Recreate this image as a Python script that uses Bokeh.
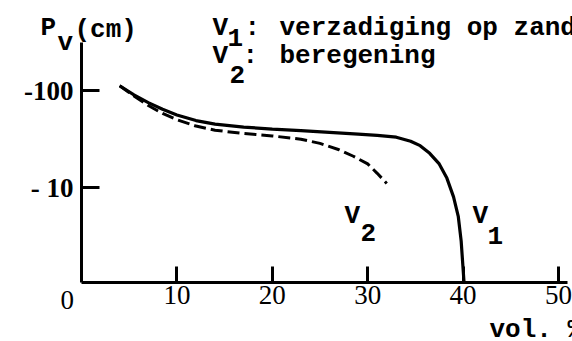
from bokeh.plotting import figure
from bokeh.models import Label, FixedTicker
from bokeh.embed import file_html
from bokeh.resources import INLINE
import numpy as np

# Water content (vol. %) and pressure head P_v (cm) for both curves
v1_vol = [4.0, 5.5, 7.0, 8.5, 10.0, 12.0, 14.0, 17.0, 20.0, 23.0, 26.0, 29.0,
          31.0, 33.0, 34.5, 35.5, 36.5, 37.5, 38.3, 39.0, 39.5, 39.8, 40.1]
v1_pv = [-112, -90, -75, -64, -56, -49, -45, -42, -40, -38.5, -37, -35.5,
         -34.5, -33, -30, -27, -22.5, -17.5, -12.5, -8, -5, -2.8, -1.05]

v2_vol = [4.0, 5.5, 7.0, 8.5, 10.0, 12.0, 14.0, 17.0, 20.0, 23.0, 25.0, 27.0,
          28.5, 30.0, 31.0, 32.0]
v2_pv = [-112, -88, -70, -58, -50, -43, -39, -36, -34, -31.5, -28.5, -24.5,
         -21, -17.5, -14, -11]

x_ticks = [10, 20, 30, 40, 50]
x_tick_labels = ["10", "20", "30", "40", "50"]
y_ticks = [10, 100]
y_tick_labels = ["- 10", "-100"]

# extent of the drawn axes (vol. % and suction in cm)
x_axis_span = (0, 50.9)
y_axis_span = (1.049, 312.6)

MONO = "Liberation Mono"
SERIF = "Liberation Serif"

# the frame fills the whole canvas; the axes sit at fixed positions inside it
p = figure(width=572, height=341, x_range=(-8.49, 51.47),
           y_range=(0.2585, 847), y_axis_type="log",
           toolbar_location=None, output_backend="svg",
           min_border=0)
p.outline_line_color = None
p.xgrid.visible = False
p.ygrid.visible = False
p.background_fill_color = "white"
p.border_fill_color = "white"

# suction is plotted on a log scale, labelled as negative pressure heads
p.line(v1_vol, -np.array(v1_pv), line_color="black", line_width=3.2)
p.line(v2_vol, -np.array(v2_pv), line_color="black", line_width=3.0,
       line_dash="12 5")

for ax in (p.xaxis[0], p.yaxis[0]):
    ax.axis_line_width = 3
    ax.axis_line_color = "black"
    ax.major_tick_line_width = 3
    ax.major_tick_line_color = "black"
    ax.major_tick_out = 0
    ax.minor_tick_line_color = None
    ax.major_label_text_color = "black"
    ax.major_label_text_font = SERIF
    ax.major_label_text_font_size = "27px"

p.xaxis.fixed_location = y_axis_span[0]
p.xaxis.bounds = x_axis_span
p.xaxis.ticker = FixedTicker(ticks=x_ticks)
p.xaxis.major_label_overrides = dict(zip(x_ticks, x_tick_labels))
p.xaxis.major_tick_in = 16
p.xaxis.major_label_standoff = 4

p.yaxis.fixed_location = x_axis_span[0]
p.yaxis.bounds = y_axis_span
p.yaxis.ticker = FixedTicker(ticks=y_ticks)
p.yaxis.major_label_overrides = dict(zip(y_ticks, y_tick_labels))
p.yaxis.major_tick_in = 18
p.yaxis.major_label_text_font_style = "bold"
p.yaxis.major_label_standoff = 8


def add_text(txt, sx, sy, size="26px", font=MONO, bold=True):
    """Place a text by its left edge and baseline, in canvas pixels."""
    p.add_layout(Label(x=sx, y=sy - 8, x_units="canvas", y_units="canvas",
                       text=txt, text_font=font, text_font_size=size,
                       text_color="black",
                       text_font_style="bold" if bold else "normal",
                       text_baseline="alphabetic", text_align="left"))


# axis title with subscript
add_text("P", 40, 35)
add_text("v", 57, 50)
add_text("(cm)", 74, 37)

# key
add_text("V", 212, 35)
add_text("1", 227, 45)
add_text(":", 244, 35)
add_text("verzadiging op zand", 279, 35)
add_text("V", 212, 63)
add_text("2", 229, 82)
add_text(":", 242, 63)
add_text("beregening", 279, 63)

# curve labels
add_text("V", 344, 223)
add_text("2", 360, 240)
add_text("V", 472, 223)
add_text("1", 487, 243)

# origin and x-axis unit
add_text("0", 60, 307, size="27px", font=SERIF, bold=False)
add_text("vol. %", 489, 337)

open("out.html", "w").write(file_html(p, INLINE))
